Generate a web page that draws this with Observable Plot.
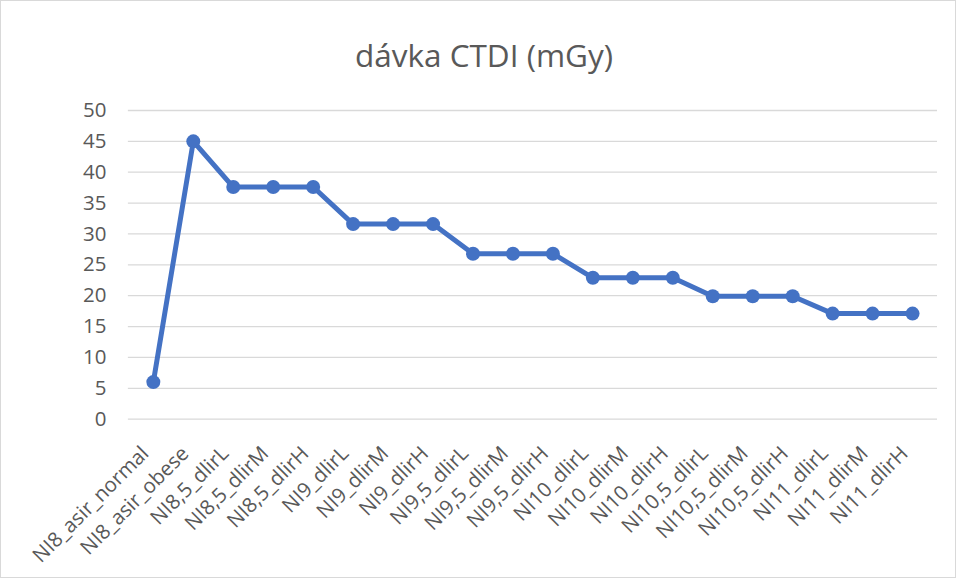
<!DOCTYPE html>
<html>
<head>
<meta charset="utf-8">
<script src="https://cdn.jsdelivr.net/npm/d3@7"></script>
<script src="https://cdn.jsdelivr.net/npm/@observablehq/plot@0.6"></script>
<style>
  html, body { margin: 0; padding: 0; background: #fff; }
  #wrap { position: relative; width: 956px; height: 578px; box-sizing: border-box; border: 1px solid #d9d9d9; overflow: hidden; font-family: "Open Sans", sans-serif; }
  #title { position: absolute; left: 5px; top: 0; width: 956px; height: 90px; line-height: 108px; text-align: center; font-size: 31.5px; color: #595959; }
  #chart { position: absolute; left: -1px; top: 89px; }
</style>
</head>
<body>
<div id="wrap">
  <div id="title">dávka CTDI (mGy)</div>
  <div id="chart"></div>
</div>
<script>
const categories = [
  "NI8_asir_normal", "NI8_asir_obese",
  "NI8,5_dlirL", "NI8,5_dlirM", "NI8,5_dlirH",
  "NI9_dlirL", "NI9_dlirM", "NI9_dlirH",
  "NI9,5_dlirL", "NI9,5_dlirM", "NI9,5_dlirH",
  "NI10_dlirL", "NI10_dlirM", "NI10_dlirH",
  "NI10,5_dlirL", "NI10,5_dlirM", "NI10,5_dlirH",
  "NI11_dlirL", "NI11_dlirM", "NI11_dlirH"
];
const doseValues = [
  6.0, 45.0,
  37.6, 37.6, 37.6,
  31.6, 31.6, 31.6,
  26.8, 26.8, 26.8,
  22.9, 22.9, 22.9,
  19.9, 19.9, 19.9,
  17.1, 17.1, 17.1
];
const yTicks = [0, 5, 10, 15, 20, 25, 30, 35, 40, 45, 50];

const data = categories.map((c, i) => ({category: c, value: doseValues[i]}));
const blue = "#4472C4";

const chart = Plot.plot({
  width: 956,
  height: 489,
  marginTop: 20,
  marginBottom: 160,
  marginLeft: 128,
  marginRight: 18,
  style: { fontFamily: "'Open Sans', sans-serif", color: "#595959", background: "transparent", overflow: "visible" },
  x: { type: "point", domain: categories, padding: 0.5 },
  y: { domain: [0, 50] },
  marks: [
    Plot.ruleY(yTicks, { stroke: "#d9d9d9", strokeWidth: 1.3 }),
    Plot.axisY({ ticks: yTicks, tickSize: 0, tickPadding: 22, fontSize: 20.5, label: null }),
    Plot.axisX({ tickRotate: -45, tickSize: 0, tickPadding: 31, dx: -8, fontSize: 20.5, label: null }),
    Plot.line(data, { x: "category", y: "value", stroke: blue, strokeWidth: 5 }),
    Plot.dot(data, { x: "category", y: "value", r: 7, fill: blue })
  ]
});
document.getElementById("chart").appendChild(chart);
</script>
</body>
</html>
